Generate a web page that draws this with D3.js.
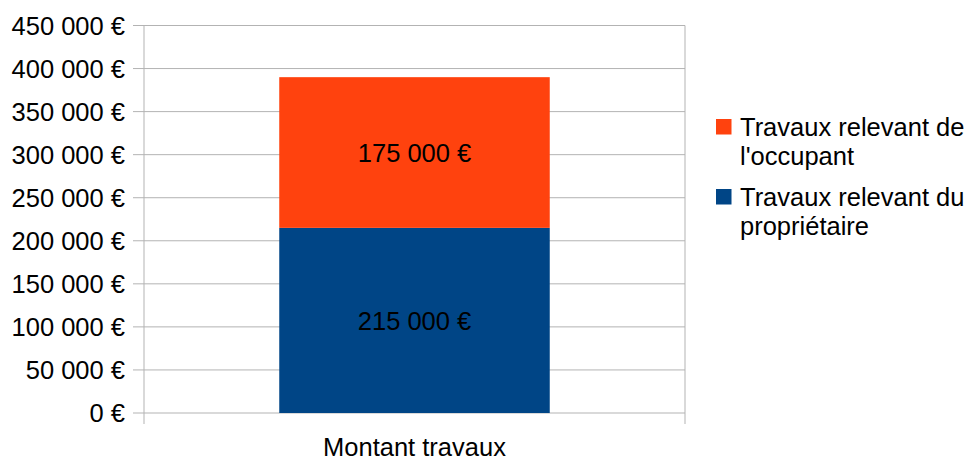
<!DOCTYPE html>
<html>
<head>
<meta charset="utf-8">
<script src="https://cdn.jsdelivr.net/npm/d3@7"></script>
<style>
  body { margin: 0; background: #fff; }
  svg { display: block; font-family: "Liberation Sans", Arial, sans-serif; }
</style>
</head>
<body>
<div id="chart"></div>
<script>
// values
const categories = ['Montant travaux'];
const legendLines = [['Travaux relevant de', "l'occupant"], ['Travaux relevant du', 'propriétaire']];
const proprietaire = [215000];
const occupant = [175000];
const yTicks = [0, 50000, 100000, 150000, 200000, 250000, 300000, 350000, 400000, 450000];
const colors = ['#004586', '#ff420e'];

const W = 973, H = 460;
const M = { top: 25.5, right: 288, bottom: 47, left: 144 };
const FS = 25.5;

const svg = d3.select('#chart').append('svg').attr('width', W).attr('height', H);
const innerW = W - M.left - M.right, innerH = H - M.top - M.bottom;
const g = svg.append('g').attr('transform', `translate(${M.left},${M.top})`);

const rows = categories.map((c, i) => ({ cat: c, proprietaire: proprietaire[i], occupant: occupant[i] }));
const stack = d3.stack().keys(['proprietaire', 'occupant'])(rows);

const x = d3.scaleBand().domain(categories).range([0, innerW]).padding(0);
const y = d3.scaleLinear().domain([0, 450000]).range([innerH, 0]);

const fmt = v => d3.format(',')(v).replace(/,/g, ' ') + ' €';

// grid
g.append('g').selectAll('line').data(yTicks).join('line')
  .attr('x1', -11).attr('x2', innerW)
  .attr('y1', d => y(d)).attr('y2', d => y(d))
  .attr('stroke', '#b3b3b3').attr('stroke-width', 1);

// vertical axis lines + category tick marks
[0, innerW].forEach(xx => {
  g.append('line').attr('x1', xx).attr('x2', xx).attr('y1', 0).attr('y2', innerH + 11)
    .attr('stroke', '#b3b3b3').attr('stroke-width', 1);
});

// y labels
g.append('g').selectAll('text').data(yTicks).join('text')
  .attr('x', -19).attr('y', d => y(d)).attr('dy', '0.36em')
  .attr('text-anchor', 'end').attr('font-size', FS).attr('fill', '#000')
  .text(fmt);

// bars
const bw = x.bandwidth() * 0.5;
stack.forEach((s, si) => {
  g.append('g').selectAll('rect').data(s).join('rect')
    .attr('x', d => x(d.data.cat) + (x.bandwidth() - bw) / 2)
    .attr('width', bw)
    .attr('y', d => y(d[1]))
    .attr('height', d => y(d[0]) - y(d[1]))
    .attr('fill', colors[si]);
  g.append('g').selectAll('text').data(s).join('text')
    .attr('x', d => x(d.data.cat) + x.bandwidth() / 2)
    .attr('y', d => (y(d[0]) + y(d[1])) / 2)
    .attr('dy', '0.36em').attr('text-anchor', 'middle')
    .attr('font-size', FS).attr('fill', '#000')
    .text(d => fmt(d[1] - d[0]));
});

// category label
g.append('g').selectAll('text').data(categories).join('text')
  .attr('x', d => x(d) + x.bandwidth() / 2)
  .attr('y', innerH + 42.5)
  .attr('text-anchor', 'middle').attr('font-size', FS).attr('fill', '#000')
  .text(d => d);

// legend (occupant first)
const legend = svg.append('g').attr('transform', 'translate(716,119)');
const legendColors = [colors[1], colors[0]];
legendLines.forEach((lines, i) => {
  const lg = legend.append('g').attr('transform', `translate(0,${i * 70})`);
  lg.append('rect').attr('width', 15.5).attr('height', 15.5).attr('fill', legendColors[i]);
  lines.forEach((t, j) => {
    lg.append('text').attr('x', 24).attr('y', 17 + j * 29)
      .attr('font-size', FS).attr('fill', '#000').text(t);
  });
});
</script>
</body>
</html>
